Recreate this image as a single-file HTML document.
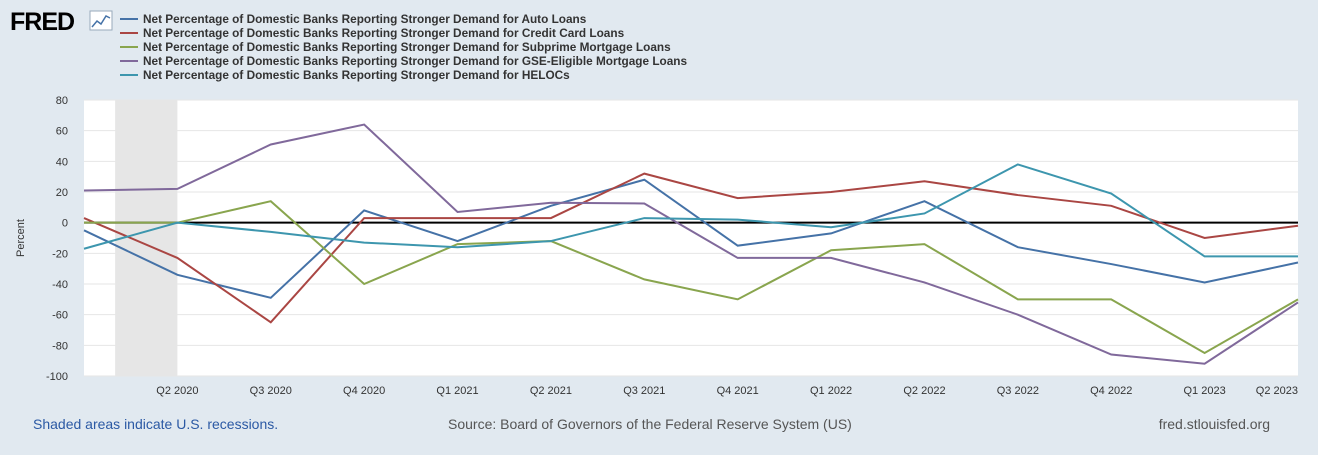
<!DOCTYPE html>
<html><head><meta charset="utf-8"><style>
body{margin:0;width:1318px;height:450px;background:#e1e9f0;font-family:"Liberation Sans",Arial,sans-serif;overflow:hidden}
</style></head><body>
<svg id="c" width="1318" height="450" xmlns="http://www.w3.org/2000/svg">
<g>
<text x="10" y="30" font-size="25" font-weight="bold" fill="#000" font-family="Liberation Sans, sans-serif" letter-spacing="-1">FRED</text>
<rect x="90" y="11" width="22" height="19" fill="#fff" stroke="#9ab" stroke-width="1"/>
<polyline points="92,27 97,21 101,24 106,16 110,18" fill="none" stroke="#4572a7" stroke-width="1.5"/>
</g>
<g id="legend"></g>
<rect x="84" y="100" width="1214" height="276" fill="#fff"/>
<g id="grid"></g>
<g id="series"></g>
<text transform="translate(24,238) rotate(-90)" font-size="11" fill="#333" text-anchor="middle">Percent</text>
<text x="33" y="429" font-size="14" fill="#2b59a4">Shaded areas indicate U.S. recessions.</text>
<text x="448" y="429" font-size="14" fill="#555">Source: Board of Governors of the Federal Reserve System (US)</text>
<text x="1270" y="429" font-size="14" fill="#555" text-anchor="end">fred.stlouisfed.org</text>
</svg>
<script>
const categories=["Q1 2020","Q2 2020","Q3 2020","Q4 2020","Q1 2021","Q2 2021","Q3 2021","Q4 2021","Q1 2022","Q2 2022","Q3 2022","Q4 2022","Q1 2023","Q2 2023"];
const autoLoans=[-5,-34,-49,8,-12,11,28,-15,-7,14,-16,-27,-39,-26];
const creditCard=[3,-23,-65,3,3,3,32,16,20,27,18,11,-10,-2];
const subprime=[0,0,14,-40,-14,-12,-37,-50,-18,-14,-50,-50,-85,-50];
const gse=[21,22,51,64,7,13,12.5,-23,-23,-39,-60,-86,-92,-52];
const helocs=[-17,0,-6,-13,-16,-12,3,2,-3,6,38,19,-22,-22];
const yTicks=[80,60,40,20,0,-20,-40,-60,-80,-100];
const seriesNames=["Net Percentage of Domestic Banks Reporting Stronger Demand for Auto Loans","Net Percentage of Domestic Banks Reporting Stronger Demand for Credit Card Loans","Net Percentage of Domestic Banks Reporting Stronger Demand for Subprime Mortgage Loans","Net Percentage of Domestic Banks Reporting Stronger Demand for GSE-Eligible Mortgage Loans","Net Percentage of Domestic Banks Reporting Stronger Demand for HELOCs"];
const ns="http://www.w3.org/2000/svg";
const X0=84,X1=1298,Y0=100,Y1=376;
const x=i=>X0+(X1-X0)*i/(categories.length-1);
const y=v=>Y0+(80-v)/180*(Y1-Y0);
function mk(t,a,p){const e=document.createElementNS(ns,t);for(const k in a)e.setAttribute(k,a[k]);p.appendChild(e);return e;}
const grid=document.getElementById('grid');
const rec=mk('rect',{x:x(1/3),y:Y0,width:x(1)-x(1/3),height:Y1-Y0,fill:'#e6e6e6'},grid);


yTicks.forEach(v=>{
 const l=mk('line',{x1:X0,x2:X1,y1:y(v),y2:y(v),stroke:v===0?'#000':'#e6e6e6','stroke-width':v===0?2:1},grid);
 
 
 const t=mk('text',{x:68,y:y(v)+4,'font-size':11,fill:'#333','text-anchor':'end'},grid);
 t.textContent=v;
 
 
});
categories.forEach((c,i)=>{
 if(i===0)return;
 const t=mk('text',{x:i===categories.length-1?X1:x(i),y:394,'font-size':11,fill:'#333','text-anchor':i===categories.length-1?'end':'middle'},grid);
 t.textContent=c;
 
 
});
const colors=['#4572a7','#aa4643','#89a54e','#80699b','#3d96ae'];
const data=[autoLoans,creditCard,subprime,gse,helocs];
const sg=document.getElementById('series'),lg=document.getElementById('legend');
data.forEach((d,s)=>{
 const p=mk('polyline',{points:d.map((v,i)=>x(i)+','+y(v)).join(' '),fill:'none',stroke:colors[s],'stroke-width':2},sg);
 
 
 const ly=19+s*14;
 const ll=mk('line',{x1:120,x2:138,y1:ly,y2:ly,stroke:colors[s],'stroke-width':2},lg);
 
 
 const t=mk('text',{x:143,y:ly+4,'font-size':11.8,'font-weight':'bold',fill:'#333'},lg);
 t.textContent=seriesNames[s];
 
 
});
</script>
</body></html>
